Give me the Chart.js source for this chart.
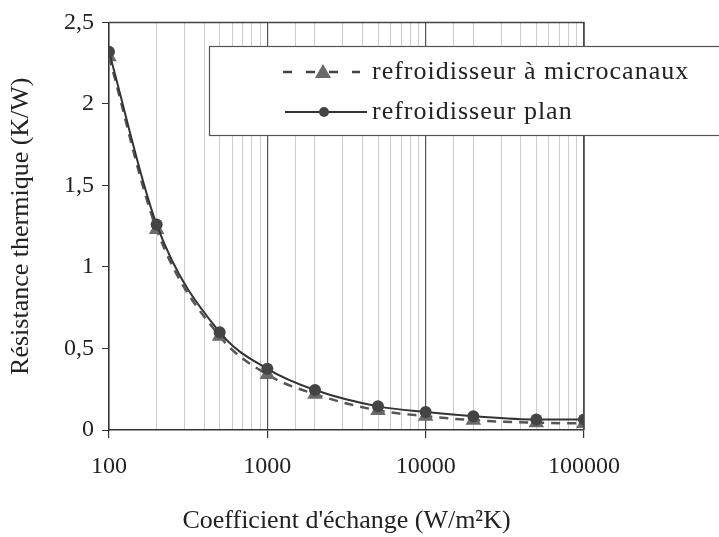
<!DOCTYPE html>
<html>
<head>
<meta charset="utf-8">
<script src="https://cdn.jsdelivr.net/npm/chart.js@4.4.0/dist/chart.umd.min.js"></script>
<style>
  html, body { margin: 0; padding: 0; background: #fff; }
  #wrap { width: 719px; height: 537px; }
</style>
</head>
<body>
<div id="wrap"><canvas id="chart" width="719" height="537"></canvas></div>
<script>
// h values (W/m2K) and thermal resistances
const coefValues  = [100, 200, 500, 1000, 2000, 5000, 10000, 20000, 50000, 100000];
const microValues = [2.29, 1.23, 0.575, 0.34, 0.22, 0.12, 0.085, 0.06, 0.045, 0.04];
const planValues  = [2.32, 1.26, 0.60, 0.375, 0.245, 0.145, 0.11, 0.085, 0.065, 0.065];
const legendLabels = ['refroidisseur à microcanaux', 'refroidisseur plan'];
const xTitle = "Coefficient d'échange (W/m²K)";
const yTitle = 'Résistance thermique (K/W)';

const SERIF = '"Liberation Serif", "Times New Roman", serif';
const isMajor = (v) => Math.abs(Math.log10(v) - Math.round(Math.log10(v))) < 1e-9;

const toPoints = (vals) => coefValues.map((x, i) => ({ x, y: vals[i] }));

// frame on top/right + boxed legend overlapping the plot
const frameAndLegend = {
  id: 'frameAndLegend',
  afterDatasetsDraw(chart) {
    const { ctx, chartArea: a } = chart;
    ctx.save();
    ctx.strokeStyle = '#444';
    ctx.lineWidth = 1.5;
    ctx.beginPath();
    ctx.moveTo(a.left, a.top); ctx.lineTo(a.right, a.top); ctx.lineTo(a.right, a.bottom);
    ctx.stroke();

    // legend box
    ctx.fillStyle = '#fff';
    ctx.fillRect(209, 46, 520, 89);
    ctx.strokeStyle = '#555';
    ctx.lineWidth = 1.2;
    ctx.strokeRect(209.5, 46.5, 520, 89);

    const rows = [72, 112];
    // row 1: dashed + triangle
    ctx.strokeStyle = '#444';
    ctx.lineWidth = 2.5;
    ctx.setLineDash([9, 14]);
    ctx.beginPath(); ctx.moveTo(283, rows[0]); ctx.lineTo(360, rows[0]); ctx.stroke();
    ctx.setLineDash([]);
    ctx.fillStyle = '#6a6a6a';
    ctx.beginPath();
    ctx.moveTo(323, rows[0] - 8); ctx.lineTo(331, rows[0] + 6); ctx.lineTo(315, rows[0] + 6);
    ctx.closePath(); ctx.fill();
    // row 2: solid + circle
    ctx.lineWidth = 2;
    ctx.strokeStyle = '#333';
    ctx.beginPath(); ctx.moveTo(285, rows[1]); ctx.lineTo(367, rows[1]); ctx.stroke();
    ctx.fillStyle = '#444';
    ctx.beginPath(); ctx.arc(324, rows[1], 5, 0, Math.PI * 2); ctx.fill();

    ctx.fillStyle = '#222';
    ctx.font = '26px ' + SERIF;
    ctx.textBaseline = 'middle';
    ctx.textAlign = 'left';
    ctx.letterSpacing = '1px';
    ctx.fillText(legendLabels[0], 372, rows[0]);
    ctx.fillText(legendLabels[1], 372, rows[1]);
    ctx.restore();
  },
};

new Chart(document.getElementById('chart'), {
  type: 'line',
  data: {
    datasets: [
      {
        label: legendLabels[1],
        data: toPoints(planValues),
        borderColor: '#333',
        borderWidth: 2,
        backgroundColor: '#444',
        pointStyle: 'circle',
        pointRadius: 6,
        pointBorderWidth: 0,
        cubicInterpolationMode: 'monotone',
        order: 0,
      },
      {
        label: legendLabels[0],
        data: toPoints(microValues),
        borderColor: '#555',
        borderWidth: 2.5,
        borderDash: [9, 7],
        backgroundColor: '#6a6a6a',
        pointStyle: 'triangle',
        pointRadius: 9,
        pointBorderWidth: 0,
        cubicInterpolationMode: 'monotone',
        order: 1,
      },
    ],
  },
  options: {
    responsive: false,
    animation: false,
    layout: { padding: { left: 0, top: 17, right: 135, bottom: 0 } },
    plugins: { legend: { display: false }, tooltip: { enabled: false } },
    scales: {
      x: {
        type: 'logarithmic',
        min: 100,
        max: 100000,
        afterFit(s) { s.height = 107; },
        border: { color: '#333', width: 1.5 },
        grid: {
          color: (c) => (c.tick && isMajor(c.tick.value) ? '#555' : 'rgba(0,0,0,0.2)'),
          lineWidth: (c) => (c.tick && isMajor(c.tick.value) ? 1.2 : 1),
          tickColor: (c) => (c.tick && isMajor(c.tick.value) ? '#333' : 'rgba(0,0,0,0)'),
          tickLength: 8,
        },
        ticks: {
          autoSkip: false,
          maxRotation: 0,
          padding: 14,
          color: '#222',
          font: { family: SERIF, size: 24 },
          callback: (v) => (isMajor(v) ? String(v) : ''),
        },
        title: {
          display: true,
          text: xTitle,
          color: '#222',
          font: { family: SERIF, size: 26 },
          padding: { top: 0, bottom: 0 },
        },
      },
      y: {
        min: 0,
        max: 2.5,
        afterFit(s) { s.width = 109; },
        border: { color: '#333', width: 1.5 },
        grid: { drawOnChartArea: false, tickLength: 7, tickColor: '#333' },
        ticks: {
          stepSize: 0.5,
          padding: 8,
          color: '#222',
          font: { family: SERIF, size: 24 },
          callback: (v) => String(v).replace('.', ','),
        },
        title: {
          display: true,
          text: yTitle,
          color: '#222',
          font: { family: SERIF, size: 26 },
          padding: { top: 6, bottom: 0 },
        },
      },
    },
  },
  plugins: [frameAndLegend],
});
</script>
</body>
</html>
